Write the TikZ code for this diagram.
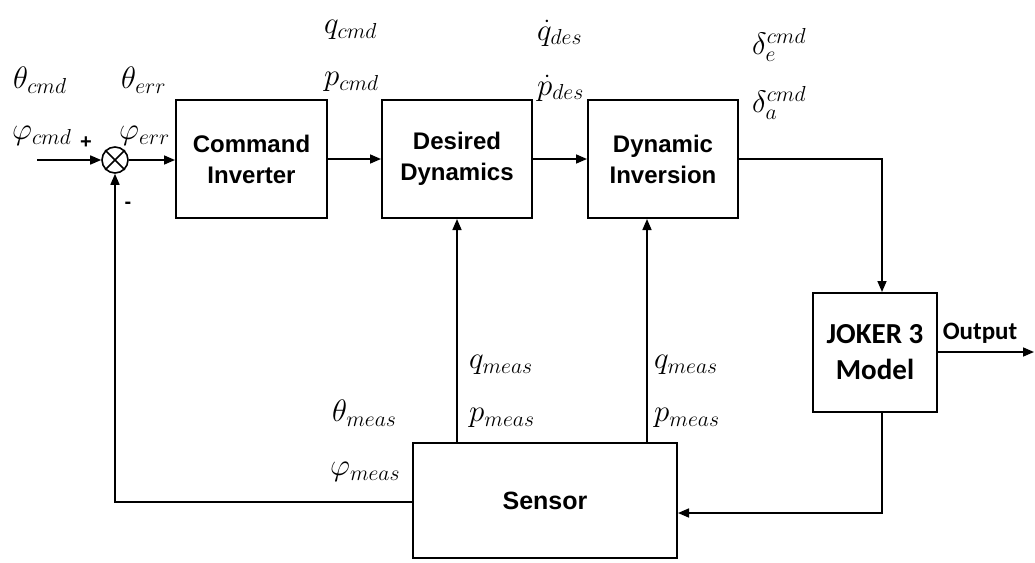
\RequirePackage{fix-cm}
\documentclass[tikz,border=0pt]{standalone}
\usepackage{fontspec}
\setsansfont{Liberation Sans}
\newfontfamily\carlito{Carlito}
\usetikzlibrary{arrows.meta}
\begin{document}
\begin{tikzpicture}[x=1pt,y=-1pt,
  blk/.style={draw, line width=2pt, font=\sffamily\bfseries\fontsize{24}{29}\selectfont, align=center, inner sep=0pt},
  conn/.style={line width=1.6pt},
  arr/.style={conn,-{Triangle[length=11pt,width=9pt]}},
  lbl/.style={font=\fontsize{31}{34}\selectfont, inner sep=0pt, anchor=west},
  sgn/.style={font=\sffamily\bfseries\fontsize{20}{24}\selectfont, inner sep=0pt}]
\useasboundingbox (0,0) rectangle (1035,562);
% blocks
\node[blk, minimum width=151pt, minimum height=118pt] (cmd) at (251.5,159) {Command\\[2pt]Inverter};
\node[blk, minimum width=150pt, minimum height=118pt] (des) at (457,159) {Desired\\[2pt]Dynamics};
\node[blk, minimum width=150pt, minimum height=118pt] (dyn) at (663,159) {Dynamic\\[2pt]Inversion};
\node[blk, minimum width=124pt, minimum height=119pt, font=\carlito\bfseries\fontsize{29}{34}\selectfont] (joker) at (875,352.5) {JOKER 3\\[2pt]Model};
\node[blk, minimum width=264pt, minimum height=115pt, font=\sffamily\bfseries\fontsize{25}{29}\selectfont] (sensor) at (545,500.5) {Sensor};
\node[draw, circle, line width=1.6pt, minimum size=26pt, inner sep=0pt] (sum) at (115,160) {};
\draw[line width=1.6pt] (sum.45) -- (sum.225) (sum.135) -- (sum.315);
% connectors
\coordinate (in) at (37,160);
\coordinate (out) at (1034,352);
\coordinate (s2) at (647,443);
\draw[arr] (in) -- (sum.west);
\draw[arr] (sum.east) -- (sum.east -| cmd.west);
\draw[arr] (cmd.east) -- (des.west);
\draw[arr] (des.east) -- (dyn.west);
\draw[arr] (dyn.east) -| ([xshift=7pt]joker.north);
\draw[arr] (joker.east |- out) -- (out);
\draw[arr] ([xshift=7pt]joker.south) |- ([yshift=-12.5pt]sensor.east);
\draw[arr] ([yshift=-1.5pt]sensor.west) -| (sum.south);
\draw[arr] (sensor.north -| des.south) -- (des.south);
\draw[arr] (s2) -- (s2 |- dyn.south);
% labels
\node[lbl] (l1) at (13,80) {$\theta_{cmd}$};
\node[lbl] (l2) at (12,136) {$\varphi_{cmd}$};
\node[sgn] (plus) at (86,143) {+};
\node[sgn] (minus) at (128,205) {-};
\node[lbl] (l3) at (121,80) {$\theta_{err}$};
\node[lbl] (l4) at (119,136) {$\varphi_{err}$};
\node[lbl] (l5) at (324,30) {$q_{cmd}$};
\node[lbl] (l6) at (324,82) {$p_{cmd}$};
\node[lbl] (l7) at (537,33) {$\dot q_{des}$};
\node[lbl] (l8) at (537,88) {$\dot p_{des}$};
\node[lbl] (l9) at (752,45) {$\delta_e^{cmd}$};
\node[lbl] (l10) at (752,103) {$\delta_a^{cmd}$};
\node[lbl] (l11) at (469,365) {$q_{meas}$};
\node[lbl] (l12) at (469,418) {$p_{meas}$};
\node[lbl] (l13) at (654,365) {$q_{meas}$};
\node[lbl] (l14) at (654,418) {$p_{meas}$};
\node[lbl] (l15) at (332,413) {$\theta_{meas}$};
\node[lbl] (l16) at (330,472) {$\varphi_{meas}$};
\node[font=\carlito\bfseries\fontsize{25}{30}\selectfont, inner sep=0pt] (outl) at (980,333) {Output};
\end{tikzpicture}
\end{document}
